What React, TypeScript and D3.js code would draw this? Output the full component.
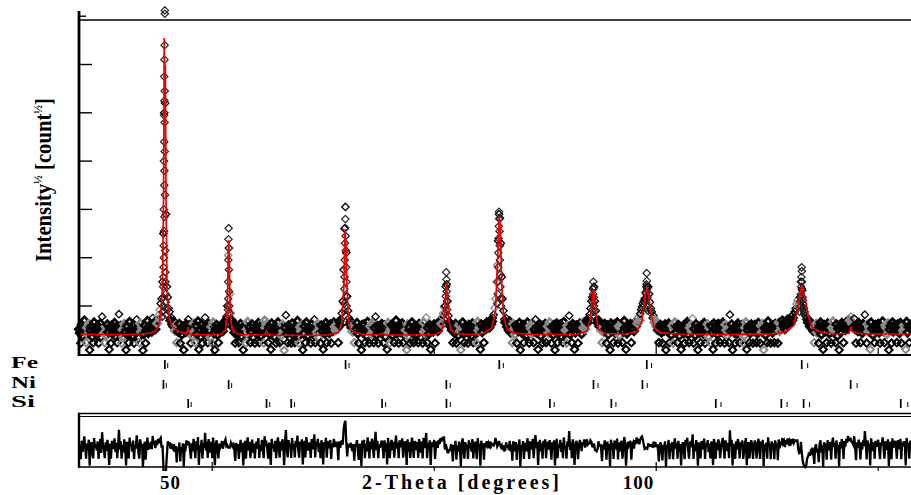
import React from 'react';
import * as d3 from 'd3';

// observed sqrt(intensity), 2-theta from 35.0 to 129.0, step 0.1
const obsStart = 35.0;
const obsStep = 0.1;
const obs = [
  52, 44, 23, 61, 38, 57, 70, 46, 24, 55, 41, 63, 9, 49, 58, 36, 24, 66, 47, 53,
  40, 59, 23, 48, 64, 35, 78, 51, 44, 24, 57, 39, 62, 46, 10, 54, 23, 60, 43, 50,
  65, 37, 56, 24, 48, 83, 42, 59, 23, 51, 36, 63, 45, 9, 58, 40, 24, 67, 49, 54,
  38, 61, 23, 52, 45, 72, 57, 35, 24, 64, 47, 55, 8, 42, 60, 23, 50, 69, 44, 58,
  53, 62, 47, 75, 58, 66, 52, 71, 64, 80, 74, 92, 105, 115, 150, 250, 500, 520, 290, 140,
  118, 95, 88, 70, 76, 62, 58, 67, 49, 60, 24, 55, 46, 63, 23, 52, 41, 58, 9, 50,
  46, 62, 57, 72, 60, 44, 23, 55, 38, 64, 47, 24, 59, 42, 68, 10, 51, 36, 62, 23,
  54, 45, 76, 39, 58, 24, 63, 48, 35, 57, 23, 66, 44, 9, 52, 61, 40, 24, 55, 47,
  53, 62, 48, 58, 66, 72, 78, 100, 205, 220, 125, 85, 70, 57, 64, 45, 23, 59, 41, 55,
  24, 49, 63, 37, 56, 9, 45, 60, 23, 52, 67, 40, 57, 24, 46, 62, 35, 54, 23, 50,
  58, 43, 65, 24, 51, 38, 61, 47, 23, 70, 55, 62, 48, 24, 57, 41, 10, 64, 46, 53,
  36, 59, 23, 50, 66, 44, 24, 57, 39, 62, 48, 8, 55, 81, 42, 24, 60, 47, 53, 23,
  64, 40, 52, 24, 58, 45, 69, 37, 23, 56, 49, 61, 9, 43, 58, 24, 66, 51, 38, 55,
  47, 23, 62, 53, 41, 72, 24, 57, 46, 63, 35, 54, 23, 60, 48, 10, 56, 43, 65, 24,
  52, 59, 44, 62, 23, 55, 48, 66, 57, 50, 61, 53, 24, 68, 60, 72, 85, 110, 175, 260,
  305, 210, 120, 90, 75, 62, 68, 55, 47, 60, 24, 58, 52, 65, 43, 23, 56, 49, 9, 61,
  45, 62, 24, 53, 38, 67, 50, 23, 58, 42, 64, 47, 24, 55, 78, 40, 59, 23, 51, 46,
  57, 63, 48, 24, 60, 36, 54, 10, 65, 45, 23, 52, 61, 39, 57, 24, 48, 70, 43, 55,
  23, 60, 46, 53, 64, 24, 41, 58, 50, 9, 62, 37, 56, 23, 48, 66, 44, 24, 59, 52,
  40, 57, 24, 63, 49, 35, 58, 23, 66, 45, 52, 76, 24, 55, 42, 61, 10, 50, 57, 47,
  62, 23, 54, 60, 48, 65, 57, 70, 63, 78, 85, 98, 100, 140, 145, 110, 80, 66, 58, 62,
  50, 24, 57, 44, 63, 23, 52, 39, 60, 48, 9, 55, 66, 42, 24, 58, 47, 53, 23, 61,
  45, 56, 38, 64, 24, 51, 59, 43, 23, 67, 49, 55, 10, 62, 46, 57, 24, 60, 52, 66,
  58, 64, 55, 70, 62, 68, 75, 82, 96, 115, 150, 185, 235, 290, 282, 230, 160, 115, 90, 72,
  66, 75, 57, 62, 50, 68, 45, 58, 24, 63, 52, 41, 60, 23, 55, 48, 65, 9, 53, 44,
  61, 24, 50, 57, 39, 66, 47, 23, 59, 53, 42, 64, 24, 51, 72, 45, 58, 10, 49, 62,
  38, 55, 23, 60, 47, 63, 24, 52, 58, 44, 66, 51, 23, 57, 40, 61, 9, 48, 64, 24,
  53, 46, 62, 37, 56, 24, 67, 43, 50, 23, 59, 48, 80, 41, 57, 24, 63, 52, 10, 45,
  60, 54, 23, 49, 64, 57, 42, 61, 55, 68, 52, 63, 70, 66, 75, 82, 95, 110, 118, 135,
  140, 110, 90, 72, 65, 70, 58, 62, 50, 24, 57, 46, 63, 53, 23, 60, 41, 55, 9, 64,
  48, 57, 24, 62, 44, 51, 66, 23, 58, 39, 54, 61, 24, 47, 69, 55, 10, 43, 60, 52,
  57, 63, 24, 55, 60, 48, 66, 58, 72, 64, 77, 70, 84, 92, 98, 105, 110, 115, 128, 140,
  138, 140, 125, 108, 95, 88, 75, 80, 66, 70, 58, 63, 50, 24, 57, 61, 45, 23, 55, 49,
  62, 9, 53, 47, 64, 24, 56, 40, 59, 23, 51, 66, 45, 57, 24, 61, 38, 54, 10, 49,
  58, 44, 23, 63, 52, 67, 41, 24, 55, 60, 47, 74, 23, 53, 39, 62, 48, 9, 57, 45,
  24, 60, 51, 43, 65, 23, 56, 48, 62, 37, 54, 24, 59, 46, 10, 64, 50, 23, 57, 41,
  63, 53, 24, 47, 58, 66, 44, 23, 61, 50, 39, 56, 24, 82, 48, 62, 9, 54, 45, 23,
  59, 42, 64, 52, 24, 57, 47, 61, 23, 38, 55, 66, 10, 50, 58, 24, 44, 62, 53, 23,
  48, 61, 56, 24, 43, 65, 52, 23, 59, 46, 63, 9, 54, 40, 57, 24, 68, 49, 55, 23,
  60, 45, 57, 24, 63, 51, 58, 23, 66, 48, 62, 55, 70, 59, 64, 52, 68, 61, 74, 66,
  72, 63, 78, 70, 82, 75, 88, 95, 104, 112, 100, 105, 118, 150, 135, 112, 96, 88, 80, 72,
  75, 66, 70, 58, 62, 54, 60, 48, 24, 57, 63, 45, 52, 23, 59, 66, 41, 55, 10, 61,
  47, 58, 24, 64, 52, 43, 60, 23, 55, 68, 49, 57, 24, 62, 38, 53, 9, 59, 46, 65,
  54, 24, 61, 50, 66, 58, 72, 63, 70, 78, 68, 62, 57, 74, 52, 23, 60, 48, 65, 55,
  24, 59, 44, 63, 51, 82, 57, 23, 62, 47, 55, 10, 66, 53, 40, 58, 24, 61, 49, 56,
  63, 45, 23, 57, 52, 68, 48, 24, 60, 55, 42, 64, 9, 51, 59, 23, 66, 47, 53, 61,
  50, 24, 62, 56, 44, 65, 23, 58, 49, 60, 53, 10, 67, 45, 57, 24, 61, 52, 63, 48,
  55,
];

// extra observed points stacked on the peak flanks [2theta, value]
const obsPeaks: [number, number][] = [
  [44.67, 705], [44.67, 712], [44.64, 640], [44.62, 610], [44.6, 575], [44.66, 545], [44.62, 525],
  [44.58, 495], [44.64, 480], [44.6, 440], [44.66, 420], [44.57, 400], [44.62, 380], [44.6, 350],
  [44.68, 330], [44.55, 300], [44.63, 285], [44.58, 255], [44.54, 225], [44.7, 215], [44.56, 200],
  [44.52, 180], [44.72, 170], [44.5, 160], [44.74, 150], [44.48, 140], [44.76, 125], [44.46, 118],
  [44.78, 108], [44.45, 100], [44.8, 95], [44.42, 88], [44.83, 82], [44.4, 78],
  [51.85, 261], [51.83, 238], [51.87, 220], [51.82, 195], [51.88, 175], [51.81, 150], [51.9, 130],
  [51.8, 115], [51.92, 100], [51.78, 92], [51.94, 85],
  [65.0, 280], [64.97, 262], [65.03, 245], [64.95, 230], [65.05, 215], [64.93, 195], [65.07, 180],
  [64.9, 160], [65.1, 150], [64.88, 135], [65.12, 120], [64.85, 105], [65.15, 100], [64.82, 90],
  [76.35, 170], [76.38, 155], [76.33, 140], [76.4, 130], [76.3, 120], [76.43, 110], [76.28, 100],
  [76.46, 92], [76.25, 85],
  [82.3, 295], [82.33, 280], [82.28, 265], [82.36, 255], [82.25, 240], [82.38, 225], [82.22, 210],
  [82.4, 195], [82.2, 180], [82.43, 165], [82.18, 150], [82.46, 140], [82.15, 125], [82.5, 115],
  [82.1, 105], [82.55, 100],
  [92.92, 150], [92.95, 138], [92.9, 125], [92.98, 118], [92.87, 108], [93.0, 100], [92.84, 92],
  [93.03, 88],
  [98.93, 168], [98.95, 152], [98.9, 145], [98.98, 135], [98.87, 125], [99.02, 118], [98.84, 110],
  [99.06, 100], [98.8, 95], [99.1, 90],
  [116.38, 180], [116.4, 172], [116.35, 160], [116.42, 150], [116.32, 140], [116.45, 132],
  [116.28, 124], [116.5, 118], [116.25, 110], [116.55, 104], [116.2, 98], [116.6, 92],
  [116.15, 88], [116.66, 85],
];

// calculated profile [2theta, value]
const calcCurve: [number, number][] = [
  [35, 42], [38, 41], [40, 41], [42, 42], [43, 44], [43.6, 48], [44.0, 60], [44.2, 80], [44.4, 140],
  [44.5, 280], [44.55, 420], [44.6, 655], [44.66, 540], [44.72, 600], [44.8, 330], [44.9, 150],
  [45.0, 100], [45.2, 72], [45.5, 58], [46.0, 50], [46.6, 45], [47.1, 42], [47.2, 47], [47.3, 56],
  [47.4, 45], [47.6, 41], [48.5, 41], [50.0, 40], [51.0, 42], [51.5, 50], [51.7, 90], [51.8, 200],
  [51.85, 237], [51.9, 215], [52.0, 120], [52.1, 70], [52.3, 50], [52.8, 43], [53.5, 41], [55.8, 40],
  [56.0, 43], [56.12, 48], [56.25, 42], [57.0, 40], [60.0, 39], [63.0, 40], [64.2, 45], [64.6, 65],
  [64.85, 150], [64.95, 259], [65.05, 230], [65.15, 160], [65.3, 80], [65.5, 55], [66.0, 46],
  [67.0, 41], [68.8, 40], [69.13, 44], [69.4, 40], [72.0, 40], [75.0, 41], [75.8, 46], [76.1, 70],
  [76.37, 148], [76.5, 115], [76.65, 70], [76.9, 50], [77.5, 43], [79.0, 41], [80.5, 43], [81.5, 55],
  [81.9, 90], [82.15, 200], [82.33, 286], [82.45, 260], [82.6, 150], [82.8, 80], [83.2, 52],
  [84.0, 44], [86.0, 41], [87.8, 41], [88.03, 46], [88.3, 41], [91.0, 41], [92.2, 48], [92.6, 75],
  [92.94, 135], [93.05, 120], [93.25, 80], [93.5, 52], [94.2, 43], [96.5, 42], [97.8, 46],
  [98.4, 70], [98.75, 120], [98.94, 139], [99.1, 128], [99.4, 85], [99.8, 55], [100.5, 45],
  [102.0, 42], [108.0, 41], [113.0, 42], [114.5, 46], [115.5, 60], [116.0, 100], [116.39, 143],
  [116.55, 130], [116.8, 115], [117.1, 80], [117.6, 55], [118.5, 46], [120.0, 42], [121.7, 43],
  [121.9, 55], [122.1, 47], [122.5, 44], [124.0, 42], [130.0, 42],
];

// Bragg reflection positions (2theta)
const braggFe = [44.67, 65.02, 82.33, 98.94, 116.39];
const braggNi = [44.51, 51.85, 76.37, 92.94, 98.45, 121.9];
const braggSi = [47.3, 56.12, 58.9, 69.13, 76.38, 88.03, 94.95, 106.71, 114.09, 116.6, 127.54];
const phaseNames = ['Fe', 'Ni', 'Si'];

const yTicks = [100, 200, 300, 400, 500, 600, 700];
const xMajorTicks = [50, 100];
const xMinorTicks = [75, 125];
const xTickLabels = ['50', '100'];
const xTickLabelAt = [45.3, 98.0]; // where the original prints them

const serif = "'Liberation Serif', 'Times New Roman', serif";
const diamond = 'M0,-3.7L3.7,0L0,3.7L-3.7,0Z';
const rowY = [360, 380, 399];
const labelWidth = [27, 25, 24];

// K-alpha2 companion of a reflection
const ka2 = (t: number) =>
  (2 * Math.asin(Math.min(1, (1.54443 / 1.54056) * Math.sin((t / 2) * Math.PI / 180))) * 180) / Math.PI;

export default function App() {
  const x = d3.scaleLinear().domain([35, 130]).range([79, 922.6]);
  const y = d3.scaleLinear().domain([0, 700]).range([354.3, 16.2]);
  const yd = d3.scaleLinear().domain([-100, 100]).range([498.3, 401.7]);
  const calcAt = d3.scaleLinear().domain(calcCurve.map(d => d[0])).range(calcCurve.map(d => d[1]));

  const obsPts = obs.map((v, i) => [obsStart + i * obsStep, v] as [number, number]);
  const diffPts = obsPts.map(([t, v]) => [t, v - calcAt(t)] as [number, number]);

  const calcPath = d3.line<[number, number]>().x(d => x(d[0])).y(d => y(d[1]))(calcCurve) || '';
  const diffPath = d3.line<[number, number]>().x(d => x(d[0])).y(d => yd(d[1]))(diffPts) || '';

  const phases = [braggFe, braggNi, braggSi];

  return (
    <svg width={911} height={495} style={{ position: 'absolute', left: 0, top: 0, background: '#fff' }}>
      <defs>
        <clipPath id="diffClip">
          <rect x={79} y={414} width={840} height={57} />
        </clipPath>
      </defs>

      {/* observed points */}
      <g fill="none">
        {obsPts.map(([t, v], i) => (
          <path key={i} d={diamond} transform={`translate(${x(t)},${y(v)})`}
            strokeWidth={v >= 30 && v <= 70 ? 2.7 : v < 30 ? 2 : 1.3}
            stroke={Math.floor(i / 4) % 5 === 2 ? '#8a8a8a' : '#000'} />
        ))}
        {obsPeaks.map(([t, v], i) => (
          <path key={'p' + i} d={diamond} transform={`translate(${x(t)},${y(v)})`} stroke="#222"
            strokeWidth={1.2} />
        ))}
      </g>

      {/* calculated */}
      <path d={calcPath} fill="none" stroke="#ee0000" strokeWidth={1.7} />

      {/* main frame */}
      <line x1={79} x2={911} y1={20} y2={20} stroke="#000" strokeWidth={1.6} />
      <line x1={79} x2={911} y1={355} y2={355} stroke="#000" strokeWidth={2.2} />
      <line x1={79} x2={79} y1={11} y2={356} stroke="#000" strokeWidth={2.8} />
      {yTicks.map(t => (
        <line key={t} x1={79} x2={t === 700 ? 86 : 92} y1={y(t)} y2={y(t)} stroke="#000" strokeWidth={1.4} />
      ))}
      {xMajorTicks.map(t => (
        <line key={t} x1={x(t)} x2={x(t)} y1={355} y2={340} stroke="#000" strokeWidth={1.2} />
      ))}
      {xMinorTicks.map(t => (
        <line key={t} x1={x(t)} x2={x(t)} y1={355} y2={348} stroke="#000" strokeWidth={1.2} />
      ))}

      {/* y label */}
      <text transform="translate(51,180) rotate(-90)" textAnchor="middle" fontFamily={serif}
        fontWeight="bold" fontSize={23} textLength={164} lengthAdjust="spacingAndGlyphs">
        Intensity<tspan fontSize={13} dy={-9}>½</tspan>
        <tspan dy={9}> [count</tspan><tspan fontSize={13} dy={-9}>½</tspan><tspan dy={9}>]</tspan>
      </text>

      {/* Bragg markers */}
      {phases.map((pos, k) => (
        <g key={k}>
          <text x={11} y={rowY[k] + 8} fontFamily={serif} fontWeight="bold" fontSize={17}
            textLength={labelWidth[k]} lengthAdjust="spacingAndGlyphs">{phaseNames[k]}</text>
          {pos.map(t => (
            <g key={t} stroke="#000">
              <line x1={x(t)} x2={x(t)} y1={rowY[k]} y2={rowY[k] + 9} strokeWidth={1.7} />
              <line x1={x(ka2(t)) + 1.8} x2={x(ka2(t)) + 1.8} y1={rowY[k] + 3} y2={rowY[k] + 8} strokeWidth={1} />
            </g>
          ))}
        </g>
      ))}

      {/* difference panel */}
      <path d={diffPath} fill="none" stroke="#000" strokeWidth={2.3} clipPath="url(#diffClip)" />
      <line x1={79} x2={911} y1={413.5} y2={413.5} stroke="#000" strokeWidth={1.6} />
      <line x1={79} x2={911} y1={416.5} y2={416.5} stroke="#000" strokeWidth={1} />
      <line x1={79} x2={911} y1={467} y2={467} stroke="#000" strokeWidth={1.6} />
      <line x1={79} x2={79} y1={412.7} y2={467.8} stroke="#000" strokeWidth={2.4} />
      {xMajorTicks.map(t => (
        <line key={t} x1={x(t)} x2={x(t)} y1={462} y2={471} stroke="#000" strokeWidth={1.2} />
      ))}
      {xMinorTicks.map(t => (
        <line key={t} x1={x(t)} x2={x(t)} y1={467} y2={471} stroke="#000" strokeWidth={1.2} />
      ))}

      {/* x labels */}
      {xTickLabels.map((s, i) => (
        <text key={s} x={x(xTickLabelAt[i])} y={489} textAnchor="middle" fontFamily={serif}
          fontWeight="bold" fontSize={19} letterSpacing={1}>{s}</text>
      ))}
      <text x={462} y={489} textAnchor="middle" fontFamily={serif} fontWeight="bold" fontSize={20}
        letterSpacing={3}>2-Theta [degrees]</text>
    </svg>
  );
}
